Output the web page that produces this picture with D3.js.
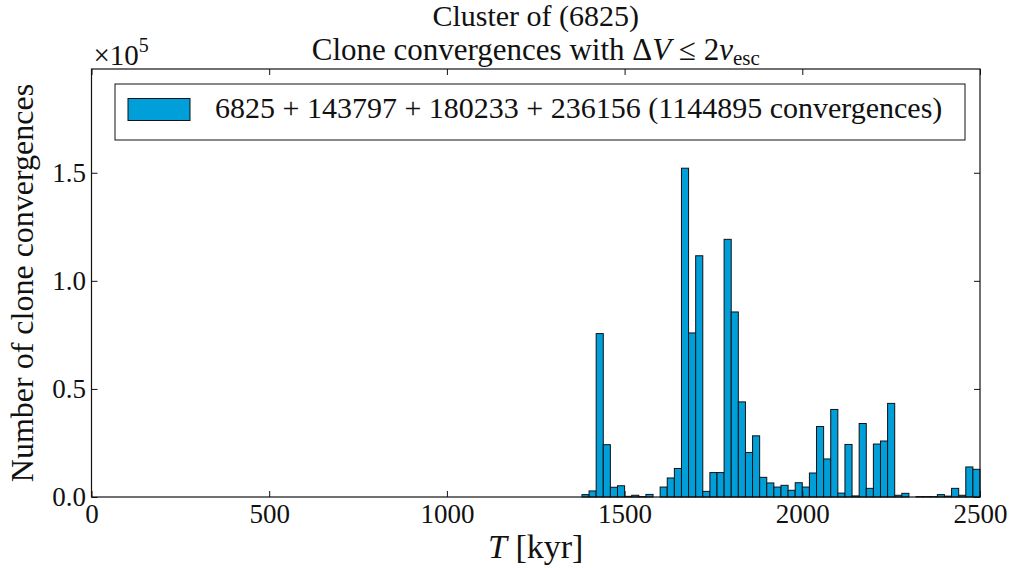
<!DOCTYPE html>
<html>
<head>
<meta charset="utf-8">
<script src="https://cdn.jsdelivr.net/npm/d3@7"></script>
<style>
  body { margin: 0; background: #fff; }
  svg text { font-family: "Liberation Serif", "DejaVu Serif", serif; fill: #111; }
</style>
</head>
<body>
<div class="chart"></div>
<script>
// histogram: 20 kyr bins, left edge of each non-empty region
var binWidth = 20;
var binStarts = [
  1380, 1400, 1420, 1440, 1460, 1480, 1500, 1520, 1540, 1560, 1580, 1600,
  1620, 1640, 1660, 1680, 1700, 1720, 1740, 1760, 1780, 1800, 1820, 1840,
  1860, 1880, 1900, 1920, 1940, 1960, 1980, 2000, 2020, 2040, 2060, 2080,
  2100, 2120, 2140, 2160, 2180, 2200, 2220, 2240, 2260, 2280, 2300, 2320,
  2340, 2360, 2380, 2400, 2420, 2440, 2460, 2480
];
var counts = [
  1100, 2800, 75600, 24200, 4500, 5200, 300, 800, 200, 1200, 0, 4600,
  8800, 13200, 152100, 75900, 111600, 2600, 11300, 11300, 119200, 85600, 44000, 20600,
  28300, 9100, 6500, 4600, 5400, 3100, 6600, 4600, 11100, 32600, 17600, 40500,
  1800, 24300, 500, 34000, 4000, 24500, 25900, 43300, 800, 1700, 0, 200,
  200, 200, 1100, 400, 4000, 800, 13900, 12800
];
var xTicks = [0, 500, 1000, 1500, 2000, 2500];
var yTicks = [0, 50000, 100000, 150000];

var margin = { top: 69, right: 34, bottom: 71, left: 91.5 };
var fullWidth = 1014, fullHeight = 568;
var width = fullWidth - margin.left - margin.right;
var height = fullHeight - margin.top - margin.bottom;

var svg = d3.select(".chart").append("svg")
  .attr("width", fullWidth)
  .attr("height", fullHeight);

var g = svg.append("g")
  .attr("transform", `translate(${margin.left}, ${margin.top})`);

var xScale = d3.scaleLinear().domain([0, 2500]).range([0, width]);
var yScale = d3.scaleLinear().domain([0, 198000]).range([height, 0]);

// bars
g.selectAll("rect.bar")
  .data(binStarts.map((s, i) => ({ start: s, n: counts[i] })).filter(d => d.n > 0))
  .enter().append("rect")
  .attr("class", "bar")
  .attr("x", d => xScale(d.start))
  .attr("width", d => xScale(d.start + binWidth) - xScale(d.start))
  .attr("y", d => yScale(d.n))
  .attr("height", d => height - yScale(d.n))
  .style("fill", "#009fda")
  .style("stroke", "#111")
  .style("stroke-width", 1);

// axes, ticks pointing inward on all sides
function fmtY(d) { return (d / 1e5).toFixed(1); }

var axBottom = g.append("g").attr("transform", `translate(0, ${height})`)
  .call(d3.axisBottom(xScale).tickValues(xTicks).tickSizeInner(-6).tickSizeOuter(0).tickPadding(7).tickFormat(d3.format("d")));
var axTop = g.append("g")
  .call(d3.axisTop(xScale).tickValues(xTicks).tickSizeInner(-6).tickSizeOuter(0).tickFormat(""));
var axLeft = g.append("g")
  .call(d3.axisLeft(yScale).tickValues(yTicks).tickSizeInner(-6).tickSizeOuter(0).tickPadding(5.5).tickFormat(fmtY));
var axRight = g.append("g").attr("transform", `translate(${width}, 0)`)
  .call(d3.axisRight(yScale).tickValues(yTicks).tickSizeInner(-6).tickSizeOuter(0).tickFormat(""));

[axBottom, axTop, axLeft, axRight].forEach(a => {
  a.select(".domain").remove();
  a.selectAll("line").style("stroke", "#111");
  a.selectAll("text").style("font-size", "27px").style("fill", "#111");
});
axBottom.selectAll("text").attr("dy", "0.71em");
axLeft.selectAll("text").attr("dy", "0.32em");

// frame
g.append("rect")
  .attr("width", width).attr("height", height)
  .style("fill", "none").style("stroke", "#111").style("stroke-width", 1.2);

// offset text
var off = svg.append("text").attr("x", margin.left + 2).attr("y", 65).style("font-size", "29px");
off.append("tspan").text("×10");
off.append("tspan").attr("dy", -13).style("font-size", "20px").text("5");

// titles
var cx = margin.left + width / 2;
svg.append("text").attr("x", cx).attr("y", 26).attr("text-anchor", "middle")
  .style("font-size", "30px").text("Cluster of (6825)");
var t2 = svg.append("text").attr("x", cx).attr("y", 60).attr("text-anchor", "middle")
  .style("font-size", "31px");
t2.append("tspan").text("Clone convergences with Δ");
t2.append("tspan").style("font-style", "italic").text("V");
t2.append("tspan").text(" ≤ 2");
t2.append("tspan").style("font-style", "italic").text("v");
t2.append("tspan").attr("dy", 5).style("font-size", "21px").text("esc");

// axis labels
var xl = svg.append("text").attr("x", cx).attr("y", 558).attr("text-anchor", "middle")
  .style("font-size", "34px");
xl.append("tspan").style("font-style", "italic").text("T");
xl.append("tspan").text(" [kyr]");

svg.append("text")
  .attr("transform", `translate(33, ${margin.top + height / 2}) rotate(-90)`)
  .attr("text-anchor", "middle")
  .style("font-size", "32px")
  .text("Number of clone convergences");

// legend
var leg = svg.append("g");
leg.append("rect").attr("x", 115).attr("y", 84).attr("width", 850).attr("height", 56)
  .style("fill", "#fff").style("stroke", "#111").style("stroke-width", 1);
leg.append("rect").attr("x", 128).attr("y", 98.5).attr("width", 62).attr("height", 22)
  .style("fill", "#009fda").style("stroke", "#111").style("stroke-width", 1);
leg.append("text").attr("x", 215).attr("y", 118).style("font-size", "30px")
  .text("6825 + 143797 + 180233 + 236156 (1144895 convergences)");
</script>
</body>
</html>
